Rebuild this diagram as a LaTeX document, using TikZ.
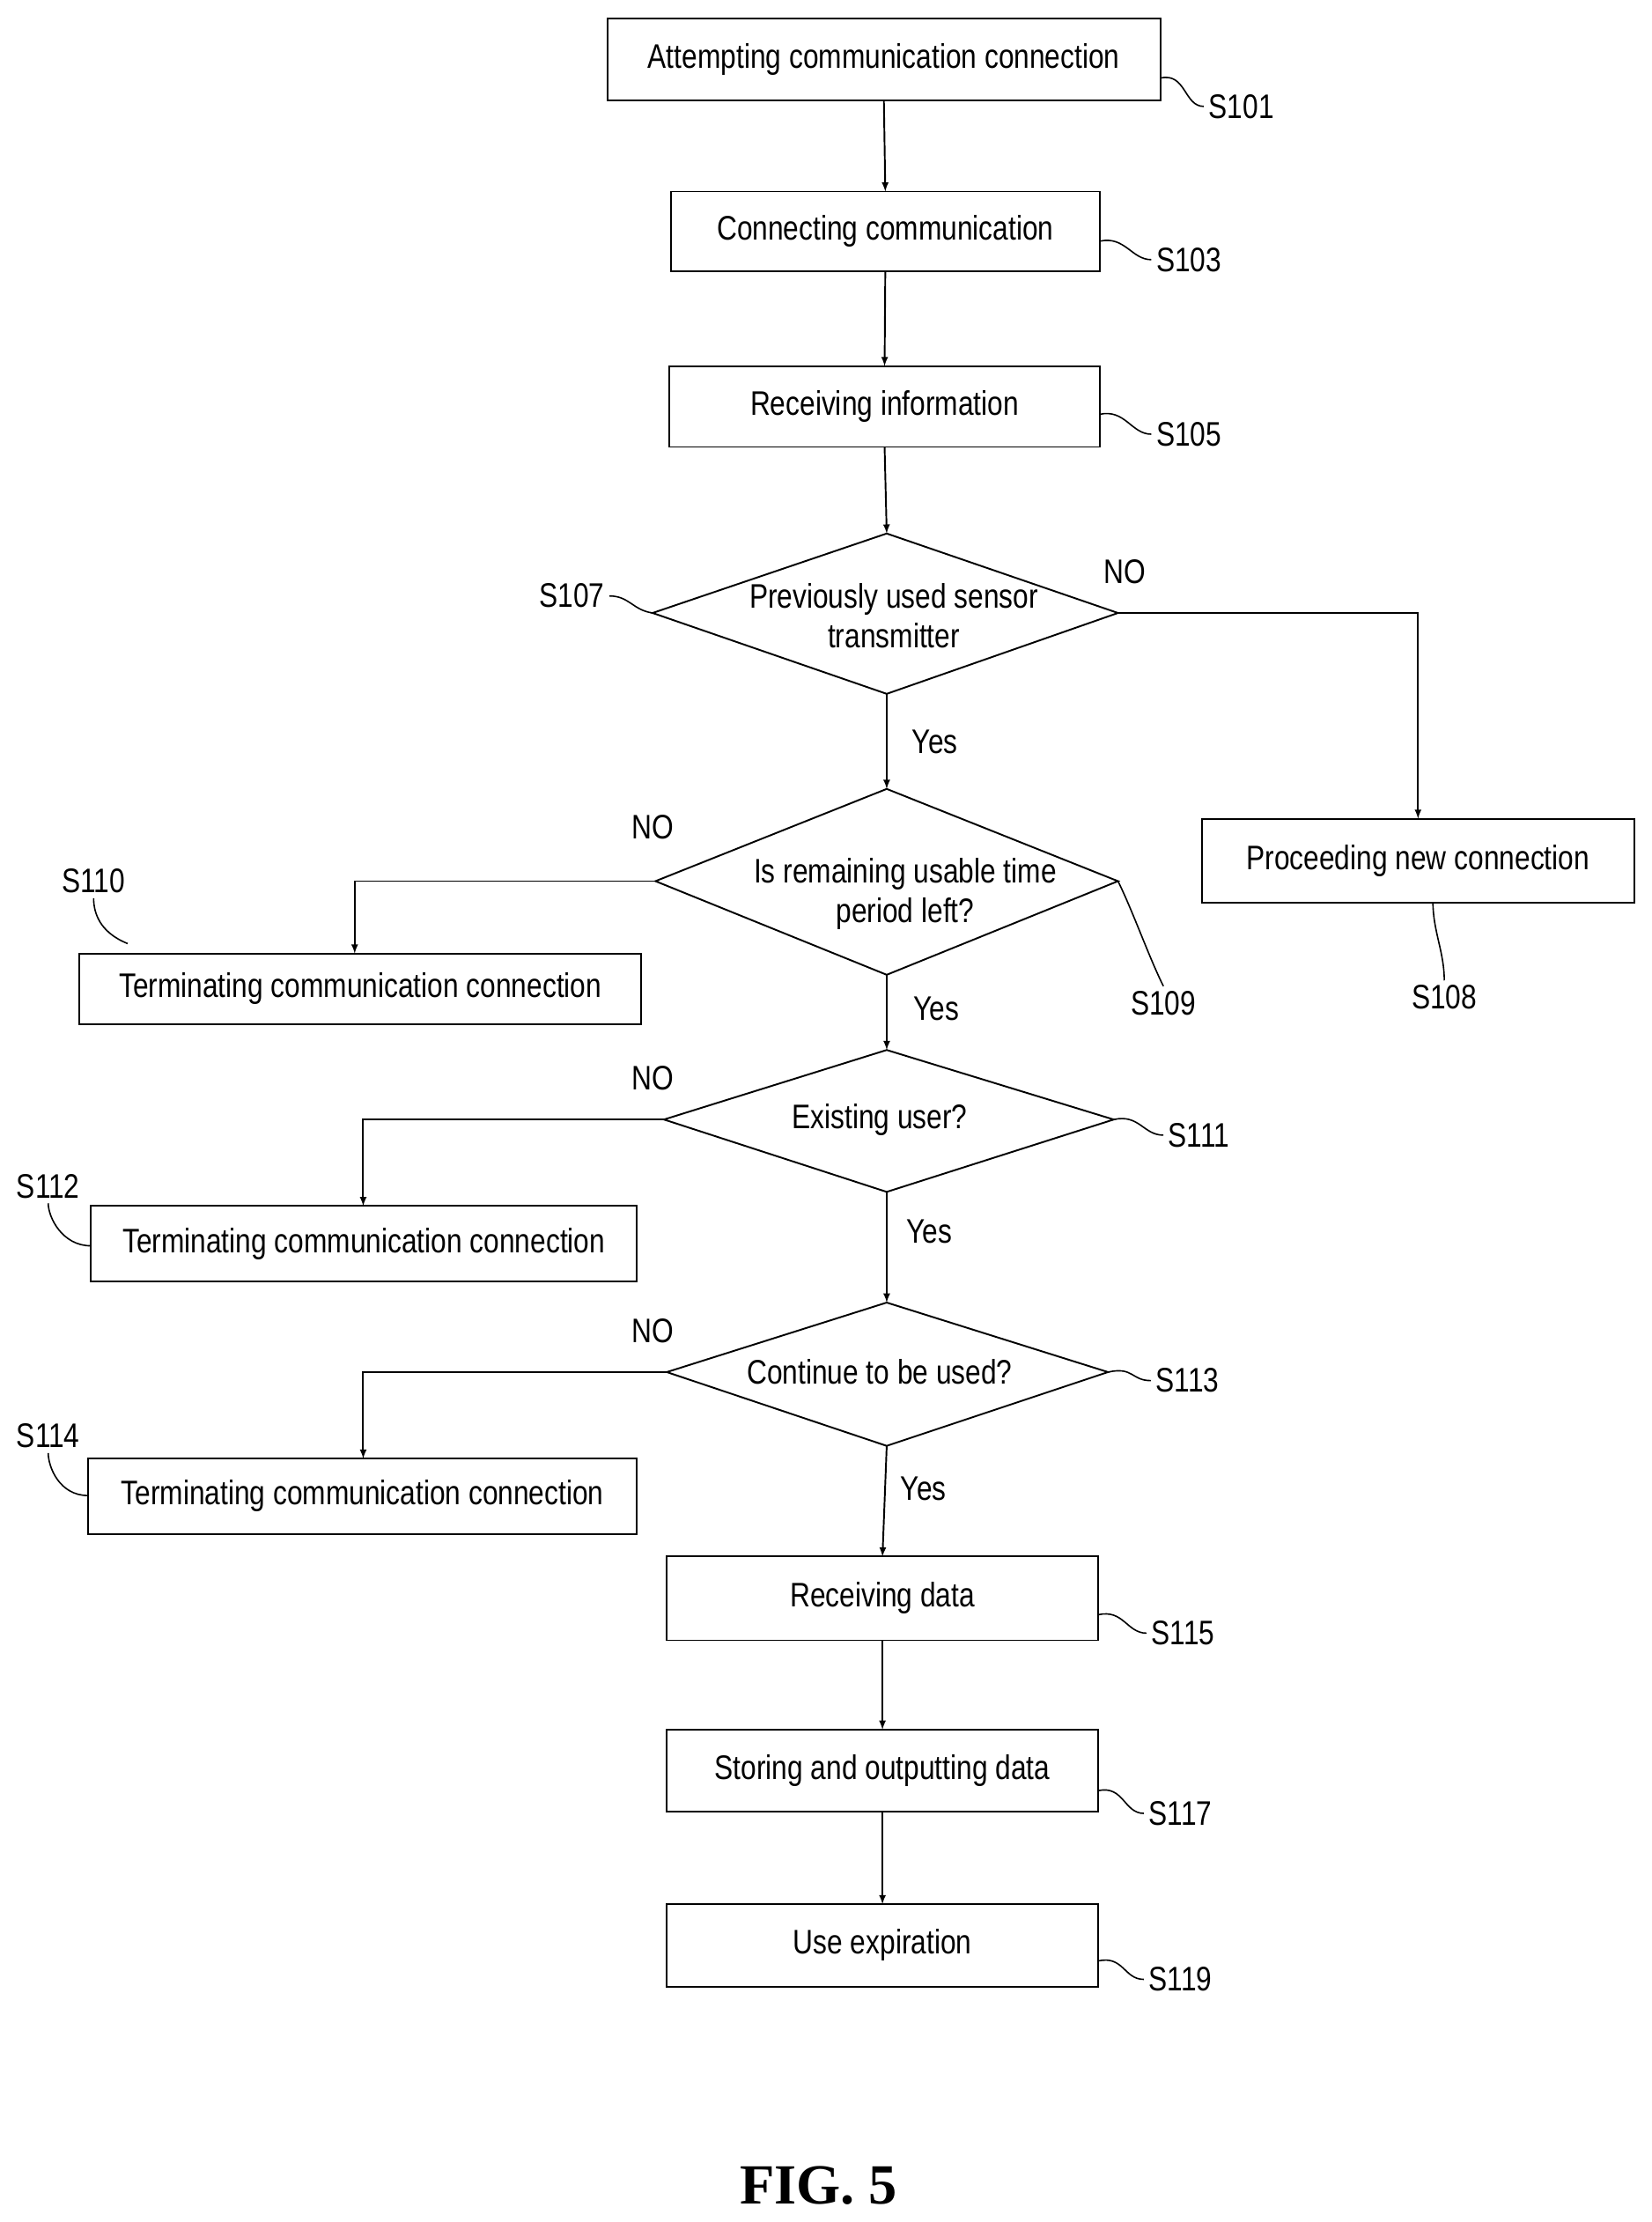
\documentclass[tikz,border=0pt]{standalone}
\usepackage{fontspec}
\setmainfont{Liberation Sans}[FakeStretch=0.82]
\newfontfamily\figfont{Liberation Serif}
\begin{document}
\begin{tikzpicture}[x=1pt,y=-1pt,
  box/.style={draw,line width=1.2pt,inner sep=0},
  txt/.style={font=\fontsize{24}{28}\selectfont,align=center},
  lab/.style={font=\fontsize{24}{28}\selectfont},
  ln/.style={line width=1.2pt},
  arr/.style={ln,-latex},
  sq/.style={line width=1pt}]
\useasboundingbox (0,0) rectangle (1164,1566);
% boxes
\newcommand\mybox[6]{\draw[box] (#2,#3) rectangle (#4,#5);
  \node[txt] (#1) at ({(#2+#4)/2},{(#3+#5)/2}) {#6};
  \coordinate (#1t) at ({(#2+#4)/2},#3); \coordinate (#1b) at ({(#2+#4)/2},#5);}
\mybox{s101}{428}{13}{818}{71}{Attempting communication connection}
\mybox{s103}{473}{135}{775}{191}{Connecting communication}
\mybox{s105}{472}{258}{775}{315}{Receiving information}
\mybox{s108}{847}{577}{1152}{636}{Proceeding new connection}
\mybox{s110}{56}{672}{452}{722}{Terminating communication connection}
\mybox{s112}{64}{850}{449}{903}{Terminating communication connection}
\mybox{s114}{62}{1028}{449}{1081}{Terminating communication connection}
\mybox{s115}{470}{1097}{774}{1156}{Receiving data}
\mybox{s117}{470}{1219}{774}{1277}{Storing and outputting data}
\mybox{s119}{470}{1342}{774}{1400}{Use expiration}
% diamonds
\newcommand\mydia[7]{\coordinate (#1t) at (#2,#5); \coordinate (#1b) at (#2,#6);
  \coordinate (#1l) at (#3,#7); \coordinate (#1r) at (#4,#7);
  \draw[ln] (#1t) -- (#1r) -- (#1b) -- (#1l) -- cycle;}
\mydia{d7}{625}{460}{788}{376}{489}{432}
\node[txt] (t7) at (630,434) {Previously used sensor\\transmitter};
\mydia{d9}{625}{462}{788}{556}{687}{621}
\node[txt] (t9) at (638,630) {Is remaining usable time\\period left?};
\mydia{d11}{625}{468}{785}{740}{840}{789}
\node[txt] (t11) at (620,789) {Existing user?};
\mydia{d13}{625}{470}{781}{918}{1019}{967}
\node[txt] (t13) at (620,967) {Continue to be used?};
% main flow
\draw[arr] (s101b) -- (s103t);
\draw[arr] (s103b) -- (s105t);
\draw[arr] (s105b) -- (d7t);
\draw[arr] (d7b) -- (d9t);
\draw[arr] (d9b) -- (d11t);
\draw[arr] (d11b) -- (d13t);
\draw[arr] (d13b) -- (s115t);
\draw[arr] (s115b) -- (s117t);
\draw[arr] (s117b) -- (s119t);
% branches
\draw[arr] (d7r) -| (s108t);
\draw[arr] (d9l) -| (250,672);
\draw[arr] (d11l) -| (256,850);
\draw[arr] (d13l) -| (256,1028);
% yes/no
\node[lab] (y7) at (659,523) {Yes};
\node[lab] (y9) at (660,711) {Yes};
\node[lab] (y11) at (655,868) {Yes};
\node[lab] (y13) at (651,1049) {Yes};
\node[lab] (n7) at (793,403) {NO};
\node[lab] (n9) at (460,583) {NO};
\node[lab] (n11) at (460,760) {NO};
\node[lab] (n13) at (460,938) {NO};
% step labels with squiggles
\newcommand\stp[5]{\node[lab] (#1) at (#2,#3) {#1};
  \coordinate (#1a) at (#4,#5);}
\stp{S101}{875}{75}{818}{55}  \draw[sq] (S101a) .. controls +(18,-4) and +(-14,0) .. (S101.west);
\stp{S103}{838}{183}{775}{170} \draw[sq] (S103a) .. controls +(18,-4) and +(-14,0) .. (S103.west);
\stp{S105}{838}{306}{775}{292} \draw[sq] (S105a) .. controls +(18,-4) and +(-14,0) .. (S105.west);
\stp{S115}{834}{1151}{774}{1138} \draw[sq] (S115a) .. controls +(18,-4) and +(-14,0) .. (S115.west);
\stp{S117}{832}{1278}{774}{1262} \draw[sq] (S117a) .. controls +(18,-4) and +(-14,0) .. (S117.west);
\stp{S119}{832}{1395}{774}{1382} \draw[sq] (S119a) .. controls +(18,-4) and +(-14,0) .. (S119.west);
\stp{S111}{845}{800}{785}{789} \draw[sq] (S111a) .. controls +(18,-4) and +(-14,0) .. (S111.west);
\stp{S113}{837}{973}{781}{967} \draw[sq] (S113a) .. controls +(18,-4) and +(-14,0) .. (S113.west);
\stp{S107}{403}{420}{460}{432} \draw[sq] (S107a) .. controls +(-14,-2) and +(14,0) .. (S107.east);
\stp{S109}{820}{707}{788}{621} \draw[sq] (S109a) .. controls +(10,20) and +(-10,-20) .. (S109.north);
\stp{S108}{1018}{703}{1010}{636} \draw[sq] (S108a) .. controls +(0,20) and +(0,-20) .. (S108.north);
\stp{S110}{66}{621}{90}{665} \draw[sq] (S110a) .. controls +(-20,-8) and +(0,10) .. (S110.south);
\stp{S112}{34}{836}{64}{878} \draw[sq] (S112a) .. controls +(-20,0) and +(0,10) .. (S112.south);
\stp{S114}{34}{1012}{62}{1054} \draw[sq] (S114a) .. controls +(-20,0) and +(0,10) .. (S114.south);
\node[font=\figfont\bfseries\fontsize{40}{46}\selectfont] (fig) at (577,1540) {FIG. 5};
\end{tikzpicture}
\end{document}
